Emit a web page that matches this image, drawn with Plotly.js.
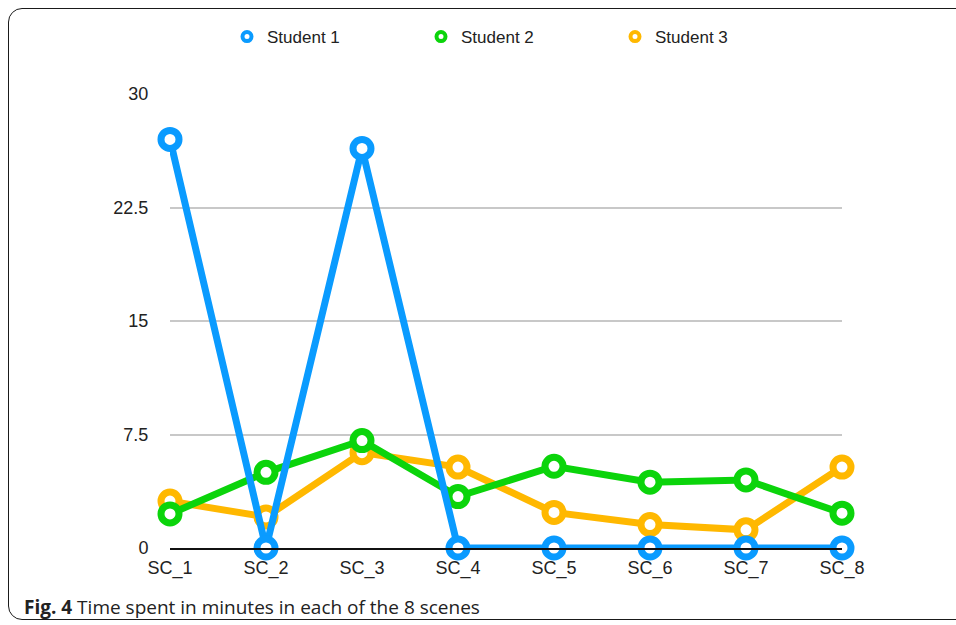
<!DOCTYPE html>
<html>
<head>
<meta charset="utf-8">
<script src="https://cdn.plot.ly/plotly-3.0.1.min.js"></script>
<style>
  html, body { margin: 0; padding: 0; background: #ffffff; }
  #frame { position: absolute; left: 8px; top: 8px; width: 1000px; height: 612px;
           border: 1.5px solid #1a1a1a; border-radius: 14px; box-sizing: border-box; }
  #chart { position: absolute; left: 0; top: 0; width: 956px; height: 625px; }
</style>
</head>
<body>
<div id="frame"></div>
<div id="chart"></div>
<script>
const categories = ["SC_1", "SC_2", "SC_3", "SC_4", "SC_5", "SC_6", "SC_7", "SC_8"];
const student1 = [27, 0, 26.4, 0, 0, 0, 0, 0];
const student2 = [2.25, 5.0, 7.1, 3.4, 5.4, 4.35, 4.5, 2.3];
const student3 = [3.1, 2.05, 6.3, 5.35, 2.35, 1.55, 1.2, 5.35];
const seriesNames = ["Student 1", "Student 2", "Student 3"];
const yTickVals = [0, 7.5, 15, 22.5, 30];
const yTickText = ["0", "7.5", "15", "22.5", "30"];

const colors = ["#0A9BFF", "#0BD40B", "#FFB800"];
const seriesData = [student1, student2, student3];

const traces = [];
// data traces: draw orange first, blue last
[2, 1, 0].forEach(i => {
  traces.push({
    x: categories, y: seriesData[i], type: "scatter", mode: "lines+markers",
    name: seriesNames[i], showlegend: false, cliponaxis: false,
    line: { color: colors[i], width: 7 },
    marker: { symbol: "circle", size: 18, color: "#ffffff", line: { color: colors[i], width: 7 } }
  });
});
// legend-only entries (markers only)
[0, 1, 2].forEach(i => {
  traces.push({
    x: [null], y: [null], type: "scatter", mode: "markers",
    name: seriesNames[i], showlegend: true,
    marker: { symbol: "circle", size: 9, color: "#ffffff", line: { color: colors[i], width: 4 } }
  });
});

const layout = {
  width: 956, height: 625,
  paper_bgcolor: "rgba(0,0,0,0)", plot_bgcolor: "rgba(0,0,0,0)",
  margin: { l: 170, r: 114, t: 94, b: 77 },
  font: { family: "Liberation Sans, Arial, sans-serif", size: 18, color: "#222222" },
  title: {
    text: "<b>Fig. 4</b> Time spent in minutes in each of the 8 scenes",
    font: { family: "Open Sans, sans-serif", size: 19, color: "#222222" },
    xref: "container", yref: "container", x: 24 / 956, xanchor: "left",
    y: (625 - 607) / 625, yanchor: "middle"
  },
  showlegend: true,
  legend: {
    orientation: "h", xref: "container", yref: "container",
    x: 227 / 956, xanchor: "left", y: 1 - 37 / 625, yanchor: "middle",
    font: { size: 17, color: "#222222" },
    entrywidth: 149, entrywidthmode: "pixels", itemclick: false,
    bgcolor: "rgba(0,0,0,0)"
  },
  xaxis: {
    type: "category", range: [0, 7], showgrid: false, zeroline: false,
    showline: true, linecolor: "#111111", linewidth: 1.5,
    ticks: "outside", ticklen: 3, tickcolor: "rgba(0,0,0,0)",
    tickfont: { size: 18, color: "#222222" }
  },
  yaxis: {
    range: [0, 30], tickvals: yTickVals, ticktext: yTickText,
    showgrid: true, gridcolor: "#c8c8c8", gridwidth: 2, zeroline: false, showline: false,
    ticks: "outside", ticklen: 17, tickcolor: "rgba(0,0,0,0)",
    tickfont: { size: 18, color: "#222222" }
  }
};

Plotly.newPlot("chart", traces, layout, { displayModeBar: false, staticPlot: true });
</script>
</body>
</html>
